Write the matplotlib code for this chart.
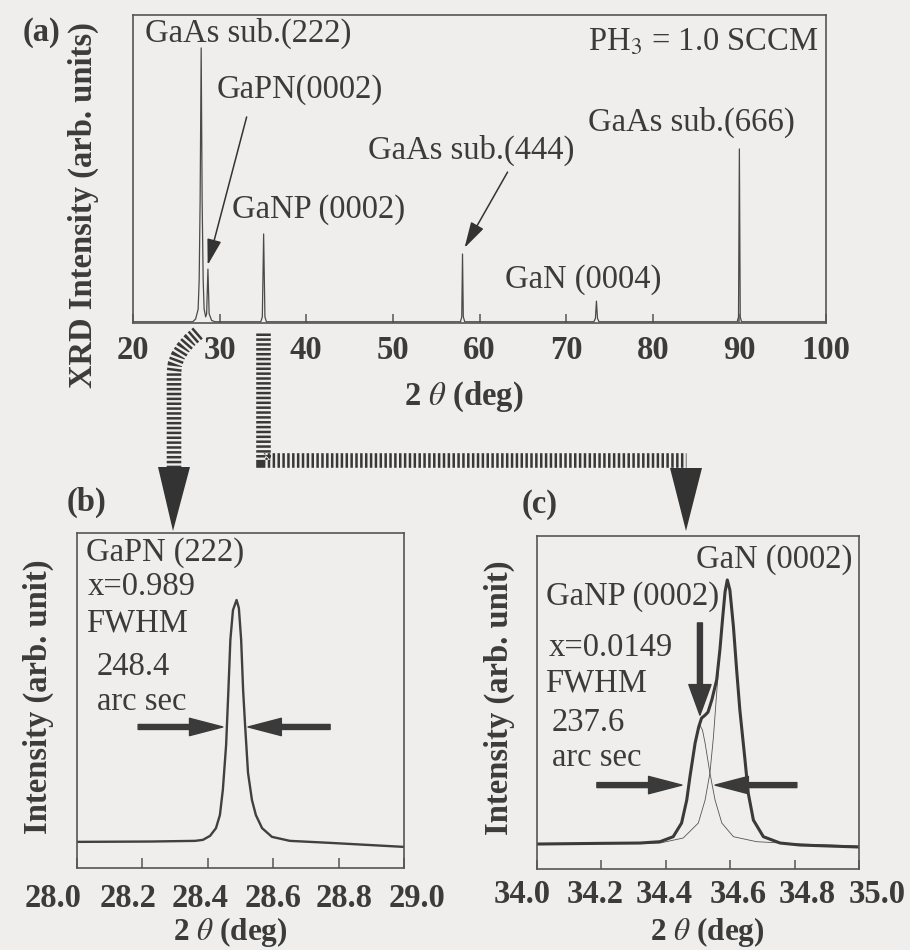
import matplotlib.pyplot as plt
from matplotlib.lines import Line2D
from matplotlib.patches import Polygon
from matplotlib.transforms import ScaledTranslation

plt.rcParams['font.family'] = ['Liberation Serif', 'DejaVu Serif']
plt.rcParams['mathtext.fontset'] = 'stix'
plt.rcParams['lines.scale_dashes'] = False

# ---- data ----
# (a) wide scan, 2theta (deg) vs intensity
a_x = [20.0, 26.9, 27.23, 27.52, 27.64, 27.75, 27.87, 27.98, 28.10, 28.21, 28.39,
       28.50, 28.65, 28.79, 29.08, 29.5,
       34.75, 34.93, 35.08, 35.23, 35.4,
       57.8, 57.95, 58.04, 58.13, 58.3,
       73.2, 73.38, 73.5, 73.62, 73.8,
       89.75, 89.9, 90.0, 90.1, 90.25, 100.0]
a_y = [0.004, 0.004, 0.013, 0.045, 0.14, 0.40, 0.893, 0.40, 0.14, 0.045, 0.02,
       0.03, 0.175, 0.03, 0.008, 0.004,
       0.004, 0.02, 0.289, 0.02, 0.004,
       0.004, 0.02, 0.224, 0.02, 0.004,
       0.004, 0.015, 0.071, 0.015, 0.004,
       0.004, 0.02, 0.565, 0.02, 0.004, 0.004]

# (b) GaPN (222)
b_x = [28.0, 28.223, 28.361, 28.385, 28.407, 28.425, 28.437, 28.446, 28.456, 28.463,
       28.469, 28.477, 28.488, 28.495, 28.502, 28.508, 28.514, 28.523, 28.535, 28.547,
       28.566, 28.596, 28.651, 28.774, 29.0]
b_y = [0.078, 0.079, 0.081, 0.084, 0.096, 0.119, 0.158, 0.233, 0.367, 0.531,
       0.681, 0.770, 0.800, 0.776, 0.681, 0.531, 0.427, 0.284, 0.203, 0.158,
       0.119, 0.093, 0.081, 0.075, 0.063]

# (c) measured profile and the two fitted components
c_x = [34.0, 34.196, 34.320, 34.382, 34.423, 34.449, 34.465, 34.475, 34.491, 34.502,
       34.511, 34.522, 34.531, 34.543, 34.558, 34.568, 34.576, 34.584, 34.591, 34.599,
       34.610, 34.620, 34.630, 34.646, 34.656, 34.672, 34.703, 34.755, 34.817, 35.0]
c_y = [0.075, 0.077, 0.078, 0.082, 0.097, 0.138, 0.207, 0.277, 0.378, 0.426,
       0.453, 0.462, 0.471, 0.508, 0.568, 0.658, 0.748, 0.832, 0.868, 0.838,
       0.728, 0.598, 0.477, 0.327, 0.228, 0.147, 0.097, 0.078, 0.072, 0.066]
ganp_x = [34.0, 34.196, 34.320, 34.382, 34.423, 34.449, 34.465, 34.475, 34.491, 34.506,
          34.514, 34.522, 34.537, 34.553, 34.574, 34.610, 34.682, 34.817, 35.0]
ganp_y = [0.075, 0.077, 0.078, 0.082, 0.097, 0.138, 0.207, 0.277, 0.378, 0.432,
          0.417, 0.378, 0.288, 0.207, 0.138, 0.097, 0.082, 0.075, 0.069]
gan_x = [34.0, 34.320, 34.382, 34.454, 34.501, 34.522, 34.537, 34.548, 34.558, 34.568,
         34.576, 34.584, 34.591, 34.599, 34.610, 34.620, 34.630, 34.646, 34.656, 34.672,
         34.703, 34.755, 34.817, 35.0]
gan_y = [0.074, 0.077, 0.078, 0.093, 0.138, 0.207, 0.288, 0.397, 0.529, 0.658,
         0.748, 0.832, 0.868, 0.838, 0.728, 0.598, 0.477, 0.327, 0.228, 0.147,
         0.097, 0.078, 0.072, 0.066]

a_ticks = [20, 30, 40, 50, 60, 70, 80, 90, 100]
b_ticks = [28.0, 28.2, 28.4, 28.6, 28.8, 29.0]
c_ticks = [34.0, 34.2, 34.4, 34.6, 34.8, 35.0]

# ---- look ----
W, H = 910, 950
INK = '#3b3b3b'
EDGE = '#555555'
BG = '#efeeec'
FS = 23.5


def fx(x):
    return x / W


def fy(y):
    return 1 - y / H


fig = plt.figure(figsize=(9.1, 9.5), dpi=100, facecolor=BG)


def make_box(l, t, r, b, ticks, fmt, pad, tlen, shifts=None):
    ax = fig.add_axes([fx(l), fy(b), (r - l) / W, (b - t) / H])
    ax.set_facecolor(BG)
    for s in ax.spines.values():
        s.set_color(EDGE)
        s.set_linewidth(1.2)
    ax.set_yticks([])
    ax.set_xticks(ticks, [fmt.format(t) for t in ticks], fontweight='bold')
    ax.set_xlim(ticks[0], ticks[-1])
    ax.set_ylim(0, 1)
    ax.tick_params(axis='x', direction='in', length=tlen, width=1.1, color=EDGE,
                   labelsize=FS, labelcolor=INK, pad=pad)
    if shifts:
        for lab, dx in zip(ax.get_xticklabels(), shifts):
            lab.set_transform(lab.get_transform() + ScaledTranslation(dx / 100, 0, fig.dpi_scale_trans))
    return ax


ax_a = make_box(133, 15, 826, 323, a_ticks, '{:.0f}', 8.5, 6.5)
ax_b = make_box(77, 533, 404, 868, b_ticks, '{:.1f}', 11, 7, [-24, -14, -8, 0, 6, 13])
ax_c = make_box(537, 536, 859, 869, c_ticks, '{:.1f}', 7.5, 6.5, [-15, -6, -2, 8, 13, 18])

ax_a.plot(a_x, a_y, color='#4a4a4a', lw=0.9)
ax_b.plot(b_x, b_y, color='#404040', lw=1.7)
ax_c.plot(ganp_x, ganp_y, color='#555555', lw=0.6)
ax_c.plot(gan_x, gan_y, color='#555555', lw=0.6)
ax_c.plot(c_x, c_y, color='#3a3a3a', lw=2.2)


def note(x, y, s, ha='left', size=FS, **kw):
    fig.text(fx(x), fy(y), s, ha=ha, va='center', fontsize=size, color=INK, **kw)


# panel (a) text
note(41, 33, '(a)', ha='center', fontweight='bold')
note(145, 33, 'GaAs sub.(222)')
note(217, 90, 'GaPN(0002)')
note(232, 210, 'GaNP (0002)')
note(368, 150, 'GaAs sub.(444)')
note(588, 122, 'GaAs sub.(666)')
note(505, 280, 'GaN (0004)')
note(588, 42, 'PH$_3$ = 1.0 SCCM')
note(83, 205, 'XRD Intensity (arb. units)', ha='center', rotation=90, fontweight='bold')
note(464, 397, r'2 $\theta$ (deg)', ha='center', fontweight='bold')

# panel (b) text
note(87, 502, '(b)', ha='center', fontweight='bold')
note(86, 553, 'GaPN (222)')
note(88, 587, 'x=0.989')
note(86, 623, 'FWHM')
note(97, 667, '248.4')
note(97, 702, 'arc sec')
note(38, 697, 'Intensity (arb. unit)', ha='center', rotation=90, fontweight='bold')
note(230, 932, r'2 $\theta$ (deg)', ha='center', size=22.5, fontweight='bold')

# panel (c) text
note(540, 505, '(c)', ha='center', fontweight='bold')
note(696, 560, 'GaN (0002)')
note(546, 597, 'GaNP (0002)')
note(549, 648, 'x=0.0149')
note(545, 683, 'FWHM')
note(552, 723, '237.6')
note(552, 758, 'arc sec')
note(499, 698, 'Intensity (arb. unit)', ha='center', rotation=90, fontweight='bold')
note(707, 932, r'2 $\theta$ (deg)', ha='center', size=22.5, fontweight='bold')

# pointer arrows
thin = dict(arrowstyle='-|>,head_length=0.8,head_width=0.22', mutation_scale=20,
            color='#333333', lw=1.1, shrinkA=0, shrinkB=0)
ax_a.annotate('', xy=(28.62, 0.188), xytext=(33.12, 0.669), arrowprops=thin, annotation_clip=False)
ax_a.annotate('', xy=(58.27, 0.244), xytext=(63.24, 0.490), arrowprops=thin, annotation_clip=False)

bold = dict(arrowstyle='simple,head_length=2.4,head_width=1.25,tail_width=0.36',
            mutation_scale=10, color='#3a3a3a', shrinkA=0, shrinkB=0)
ax_b.annotate('', xy=(28.446, 0.421), xytext=(28.187, 0.421), arrowprops=bold)
ax_b.annotate('', xy=(28.523, 0.421), xytext=(28.774, 0.421), arrowprops=bold)
ax_c.annotate('', xy=(34.450, 0.252), xytext=(34.186, 0.252), arrowprops=bold)
ax_c.annotate('', xy=(34.553, 0.252), xytext=(34.807, 0.252), arrowprops=bold)
ax_c.annotate('', xy=(34.506, 0.462), xytext=(34.506, 0.739),
              arrowprops=dict(bold, arrowstyle='simple,head_length=2.2,head_width=1.6,tail_width=0.36'))

# striped zoom arrows between panels
left_path = [(198, 333), (190, 340), (183, 348), (178, 356), (175, 364), (174, 372), (174, 467)]
right_path = [(263, 333), (263, 460), (686, 460)]
for path in (left_path, right_path):
    fig.add_artist(Line2D([fx(p[0]) for p in path], [fy(p[1]) for p in path],
                          transform=fig.transFigure, color='#383838', lw=10.5,
                          linestyle=(0, (1.8, 1.7)), dash_capstyle='butt',
                          dash_joinstyle='miter'))
for tri in ([(158, 467), (190, 467), (173, 531)], [(670, 468), (702, 468), (686, 531)]):
    fig.add_artist(Polygon([(fx(x), fy(y)) for x, y in tri], closed=True,
                           transform=fig.transFigure, color='#333333', lw=0))

fig.savefig('out.png', dpi=100, facecolor=BG)
